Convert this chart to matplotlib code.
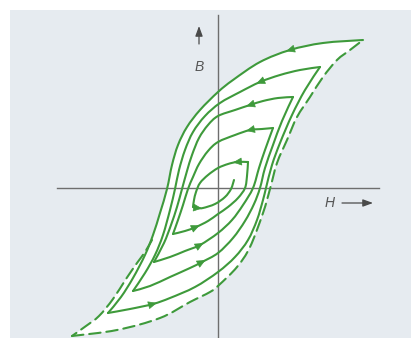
import matplotlib
matplotlib.use("Agg")
import matplotlib.pyplot as plt
from matplotlib.patches import Rectangle, PathPatch
from matplotlib.path import Path

# demagnetising spiral: descending (d) and ascending (a) branches, H and B in plot units
d1_h = [145, 105, 72, 42, 15, 0, -18, -31, -40, -46, -51, -58, -65, -73, -85, -97, -110]
d1_b = [148, 145, 138, 126, 108, 96, 78, 61, 43, 23, -1, -25, -47, -67, -90, -109, -125]
a1_h = [-110, -88, -65, -48, -23, 0, 17, 30, 39, 45, 48, 54, 62, 74, 87, 102]
a1_b = [-125, -121, -116, -110, -99, -84, -69, -52, -32, -12, 0, 23, 45, 73, 98, 121]

d2_h = [102, 82, 62, 42, 22, 2, -13, -25, -33, -39, -43, -48, -55, -63, -73, -85]
d2_b = [121, 118, 113, 106, 96, 85, 72, 56, 38, 18, -1, -22, -47, -67, -85, -103]
a2_h = [-85, -68, -48, -28, -16, 0, 15, 27, 36, 42, 47, 55, 64, 75]
a2_b = [-103, -98, -89, -80, -74, -65, -50, -33, -16, 0, 20, 43, 67, 91]

d3_h = [75, 60, 45, 32, 17, 0, -10, -19, -26, -31, -36, -41, -47, -54, -64]
d3_b = [91, 90, 87, 83, 78, 72, 63, 50, 33, 17, -1, -19, -37, -55, -74]
a3_h = [-64, -48, -33, -18, 0, 14, 25, 35, 41, 47, 55]
a3_b = [-74, -69, -63, -57, -45, -32, -17, 0, 20, 38, 60]

d4_h = [55, 44, 32, 17, 0, -10, -19, -25, -30, -35, -40, -45]
d4_b = [60, 59, 58, 53, 46, 37, 24, 11, -1, -17, -32, -46]
a4_h = [-45, -33, -22, -10, 0, 10, 20, 27, 29, 30]
a4_b = [-46, -43, -39, -33, -26, -19, -10, 0, 12, 26]

d5_h = [30, 19, 10, 0, -10, -18, -22, -24, -25]
d5_b = [26, 26, 24, 20, 13, 5, -4, -12, -19]
a5_h = [-25, -20, -15, -3, 7, 13, 16]
a5_b = [-19, -20, -20, -16, -9, -1, 8]

# major loop: lower end of the descending branch and the whole ascending branch
maj_d_h = [-66, -73, -81, -92, -105, -119, -132, -146]
maj_d_b = [-52, -64, -75, -91, -111, -128, -138, -148]
maj_a_h = [-146, -101, -58, -28, -8, 1, 19, 32, 45, 52, 59, 69, 79, 92, 105, 119, 132, 145]
maj_a_b = [-148, -142, -130, -114, -104, -97, -79, -59, -25, -1, 25, 48, 71, 91, 111, 128, 138, 148]

branches = [(d1_h, d1_b), (a1_h, a1_b), (d2_h, d2_b), (a2_h, a2_b),
            (d3_h, d3_b), (a3_h, a3_b), (d4_h, d4_b), (a4_h, a4_b),
            (d5_h, d5_b), (a5_h, a5_b)]
# which point of each branch carries the direction arrow
arrow_idx = [2, 2, 3, 4, 3, 3, 2, 2, 1, 1]

green = "#3e9a3b"
grey = "#6e6e6e"


def smooth(h, b):
    """Catmull-Rom curve through the points, as a cubic Bezier path."""
    pts = list(zip(h, b))
    n = len(pts)
    verts, codes = [pts[0]], [Path.MOVETO]
    for i in range(n - 1):
        p0, p1 = pts[max(i - 1, 0)], pts[i]
        p2, p3 = pts[i + 1], pts[min(i + 2, n - 1)]
        c1 = (p1[0] + (p2[0] - p0[0]) / 6, p1[1] + (p2[1] - p0[1]) / 6)
        c2 = (p2[0] - (p3[0] - p1[0]) / 6, p2[1] - (p3[1] - p1[1]) / 6)
        verts += [c1, c2, p2]
        codes += [Path.CURVE4] * 3
    return verts, codes


def curve(ax, h, b, **kw):
    verts, codes = smooth(h, b)
    ax.add_patch(PathPatch(Path(verts, codes), fill=False, edgecolor=green,
                           lw=1.5, capstyle="round", joinstyle="round", **kw))


fig = plt.figure(figsize=(4.11, 3.38), dpi=100, facecolor="white")
ax = fig.add_axes([0, 0, 1, 1])
ax.set_xlim(-218, 193)
ax.set_ylim(-150, 188)
ax.axis("off")

# tinted paper, leaving a thin white margin top and left
ax.add_patch(Rectangle((-208, -150), 401, 328, facecolor="#e6ebf0",
                       edgecolor="none", zorder=0))

# white inside the major loop
v1, c1 = smooth(d1_h[:13] + maj_d_h, d1_b[:13] + maj_d_b)
v2, c2 = smooth(maj_a_h, maj_a_b)
c2 = [Path.LINETO] + c2[1:]
ax.add_patch(PathPatch(Path(v1 + v2 + [v1[0]], c1 + c2 + [Path.CLOSEPOLY]),
                       facecolor="white", edgecolor="none", zorder=1))

# axes with arrows and labels
ax.plot([0, 0], [-150, 173], color=grey, lw=1.0, zorder=2)
ax.plot([-161, 161], [0, 0], color=grey, lw=1.0, zorder=2)
ax.annotate("", xy=(-19, 162), xytext=(-19, 144),
            arrowprops=dict(arrowstyle="-|>,head_length=0.6,head_width=0.22",
                            color="#4a4a4a", lw=0.9, shrinkA=0, shrinkB=0))
ax.annotate("", xy=(155, -15), xytext=(124, -15),
            arrowprops=dict(arrowstyle="-|>,head_length=0.6,head_width=0.22",
                            color="#4a4a4a", lw=0.9, shrinkA=0, shrinkB=0))
ax.text(-19, 121, "B", fontsize=10, style="italic", color="#555555",
        family="Liberation Sans", ha="center", va="center")
ax.text(112, -15, "H", fontsize=10, style="italic", color="#555555",
        family="Liberation Sans", ha="center", va="center")

# major loop, dashed
curve(ax, maj_d_h, maj_d_b, linestyle=(0, (5.5, 2.8)), zorder=3)
curve(ax, maj_a_h, maj_a_b, linestyle=(0, (5.5, 2.8)), zorder=3)

# spiral of shrinking loops
for (h, b), i in zip(branches, arrow_idx):
    curve(ax, h, b, zorder=3)
    dh, db = h[i + 1] - h[i - 1], b[i + 1] - b[i - 1]
    n = (dh ** 2 + db ** 2) ** 0.5
    ax.annotate("", xy=(h[i] + 4 * dh / n, b[i] + 4 * db / n),
                xytext=(h[i] - 2 * dh / n, b[i] - 2 * db / n),
                arrowprops=dict(arrowstyle="-|>,head_length=0.55,head_width=0.25",
                                color=green, lw=0.5, shrinkA=0, shrinkB=0),
                zorder=4)

fig.savefig("out.png", dpi=100, facecolor=fig.get_facecolor())
